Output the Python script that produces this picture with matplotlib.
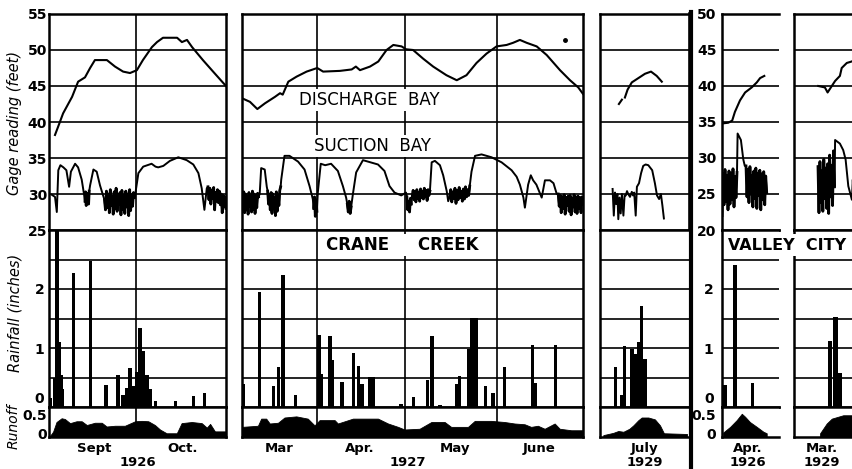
import numpy as np
import matplotlib
matplotlib.use("Agg")
from matplotlib import pyplot as plt
from matplotlib.lines import Line2D
from matplotlib import transforms

W, H = 852, 469

# ---------------- Crane Creek, Sept-Oct 1926 (day 0 = Sept 1) ----------------
dis_a = [(3.0, 38.2), (4.0, 39.3), (5.7, 41.2), (8.7, 43.5), (10.7, 45.6), (13.0, 46.2),
         (14.7, 47.5), (16.3, 48.6), (20.3, 48.6), (23.0, 47.7), (25.7, 47.0), (28.0, 46.8),
         (30.3, 47.2), (32.3, 48.6), (35.3, 50.4), (37.0, 51.1), (39.0, 51.7), (43.7, 51.7),
         (45.3, 51.1), (47.0, 51.4), (48.7, 50.4), (52.3, 48.6), (55.7, 47.0), (58.7, 45.6),
         (60.0, 45.0)]
suc_a = [(1.9, 29.9), (3.0, 29.6), (3.6, 27.5), (4.1, 33.3), (4.8, 34.0), (5.8, 33.7),
         (6.8, 33.3), (7.7, 31.0), (8.3, 33.1), (9.7, 34.2), (10.7, 33.7), (11.9, 32.0),
         (12.7, 29.9), (14.7, 31.2), (15.8, 33.4), (16.9, 33.1), (18.0, 31.2), (19.1, 29.7),
         (29.8, 30.1), (30.8, 32.9), (32.4, 33.8), (35.2, 34.2), (36.5, 33.8), (37.4, 33.7),
         (39.1, 33.9), (41.3, 34.6), (44.1, 35.1), (46.9, 34.7), (49.1, 34.1), (50.8, 32.9),
         (51.9, 30.8), (52.8, 27.8), (53.6, 30.8)]
swings_a = [
    (13.0, 14.4, [29.0, 30.3, 28.4, 30.1, 28.9, 29.8, 28.6, 30.4]),
    (19.5, 29.5, [29.2, 27.8, 30.4, 28.1, 30.0, 27.4, 30.6, 28.4, 29.7, 27.2, 30.3, 28.0,
                  30.8, 27.6, 29.9, 28.6, 30.2, 27.1, 30.5, 27.9, 29.8, 27.3, 30.4, 28.2,
                  30.0, 27.0, 30.6, 27.7, 29.9, 28.3, 30.2, 29.5]),
    (54.0, 60.0, [31.0, 29.2, 30.8, 28.6, 30.5, 29.4, 30.9, 27.8, 30.2, 29.0, 30.6, 28.8,
                  30.4, 28.5, 30.0, 27.4, 29.8, 28.2, 29.6, 28.0]),
]
rain_a = [(1.5, 0.16), (3.0, 0.5), (3.7, 3.0), (4.4, 1.1), (5.0, 0.55), (5.6, 0.3),
          (9.2, 2.27), (14.8, 2.48), (20.0, 0.37), (24.0, 0.54), (25.7, 0.2), (26.8, 0.33),
          (28.0, 0.66), (29.2, 0.35), (30.2, 0.6), (31.3, 1.34), (32.5, 0.95), (33.7, 0.55),
          (34.8, 0.3), (36.5, 0.1), (43.2, 0.1), (49.2, 0.18), (52.8, 0.24)]
runoff_a = [(1.0, -0.1), (2.0, 0.0), (2.4, 0.05), (3.5, 0.3), (5.2, 0.40), (6.3, 0.38),
            (8.0, 0.27), (10.2, 0.32), (11.9, 0.32), (13.6, 0.22), (16.3, 0.28), (18.6, 0.28),
            (20.2, 0.18), (23.0, 0.2), (26.3, 0.2), (29.7, 0.32), (31.9, 0.33), (34.1, 0.32),
            (36.3, 0.22), (38.0, 0.1), (40.2, 0.0), (43.6, 0.0), (45.2, 0.27), (48.6, 0.3),
            (51.9, 0.27), (53.6, 0.15), (54.7, 0.25), (56.3, 0.05), (60.0, 0.05)]

# ---------------- Crane Creek, Mar-June 1927 (day 0 = Mar 1) ----------------
dis_b = [(5.6, 43.3), (8.3, 42.8), (10.8, 41.8), (13.4, 42.6), (16.8, 43.5), (18.5, 44.0),
         (19.4, 43.8), (21.3, 45.6), (24.1, 46.3), (27.5, 47.0), (31.1, 47.5), (33.1, 47.0),
         (38.8, 47.1), (42.8, 47.3), (44.2, 47.7), (45.6, 47.2), (49.0, 47.7), (51.8, 48.4),
         (54.6, 50.0), (56.9, 50.7), (59.7, 50.5), (61.2, 50.1), (63.6, 50.0), (67.0, 48.8),
         (70.4, 47.7), (74.9, 46.5), (78.4, 45.8), (81.7, 46.5), (85.1, 48.2), (88.5, 49.5),
         (91.9, 50.5), (95.3, 50.7), (97.5, 51.0), (99.8, 51.4), (102.1, 51.0), (105.5, 50.5),
         (108.9, 49.3), (113.4, 47.2), (116.8, 45.8), (119.6, 44.8), (121.2, 43.9)]
dis_b_dot = (115.1, 51.4)
suc_b = [(11.6, 30.0), (12.1, 33.6), (13.3, 33.4), (14.0, 31.0), (18.9, 32.0), (20.0, 35.3),
         (21.7, 35.3), (24.6, 34.5), (26.8, 33.4), (28.5, 31.1), (29.6, 29.3), (31.3, 30.2),
         (32.3, 34.2), (33.8, 34.0), (35.8, 34.2), (38.1, 33.2), (39.8, 31.1), (40.9, 29.5),
         (43.2, 30.0), (44.3, 33.0), (46.6, 34.7), (48.3, 34.5), (51.7, 34.1), (53.9, 33.2),
         (55.6, 31.1), (57.3, 30.2), (59.6, 29.8), (61.2, 30.2), (69.9, 34.4), (71.0, 34.6),
         (72.7, 34.0), (73.8, 32.6), (75.0, 30.4), (75.5, 29.0), (83.4, 33.1), (84.6, 35.3),
         (86.8, 35.5), (90.2, 35.1), (93.6, 34.4), (97.0, 33.3), (98.7, 32.4), (99.8, 31.3),
         (101.0, 29.5), (101.5, 28.1), (102.6, 31.3), (103.5, 32.6), (104.3, 31.9),
         (105.4, 31.3), (107.2, 29.5), (108.3, 31.9), (110.0, 31.9), (111.2, 31.5),
         (112.3, 30.0)]
swings_b = [
    (5.6, 11.2, [29.9, 28.0, 30.3, 27.4, 30.0, 27.8, 29.6, 27.2, 30.2, 28.3, 29.8, 27.5,
                 30.4, 27.9, 30.0, 27.3, 29.7, 28.1, 30.1, 29.6]),
    (14.3, 18.7, [30.4, 28.6, 29.9, 27.8, 30.2, 27.3, 30.0, 28.1, 29.5, 27.0, 30.3, 27.6,
                  29.8, 28.4, 30.5, 31.0]),
    (29.9, 31.0, [28.0, 29.6, 26.9, 29.2, 27.6]),
    (41.3, 42.6, [28.6, 27.5, 29.0, 27.3, 28.2]),
    (61.5, 63.0, [29.6, 27.8, 29.0, 27.5, 29.4, 28.6]),
    (63.3, 69.3, [29.6, 30.5, 29.2, 30.3, 28.9, 30.6, 29.4, 30.2, 29.0, 30.7, 29.5, 30.4,
                  29.3, 30.8, 29.6, 30.5, 29.1, 30.6, 29.8, 30.4]),
    (76.0, 82.8, [29.6, 30.6, 28.9, 30.3, 29.4, 30.8, 28.7, 30.5, 29.2, 30.9, 29.5, 30.4,
                  29.0, 30.7, 29.3, 31.0, 29.6, 30.6, 29.8, 31.1]),
    (112.8, 121.2, [30.0, 28.3, 29.8, 27.4, 29.6, 28.0, 29.9, 27.2, 29.5, 28.4, 29.7, 27.6,
                    29.8, 27.1, 29.4, 28.2, 29.9, 27.5, 29.6, 27.3, 29.7, 28.0, 29.5, 27.4,
                    29.6, 28.6]),
]
rain_b = [(5.3, 0.22), (6.0, 0.39), (11.6, 1.95), (16.4, 0.36), (18.1, 0.68), (19.5, 2.23),
          (23.7, 0.21), (31.7, 1.22), (32.6, 0.56), (35.4, 1.21), (36.3, 0.8), (39.5, 0.42),
          (43.5, 0.91), (45.0, 0.69), (46.3, 0.39), (49.0, 0.51), (50.3, 0.51), (59.5, 0.05),
          (63.7, 0.17), (68.5, 0.45), (70.0, 1.21), (72.7, 0.04), (78.3, 0.39), (79.4, 0.52),
          (82.4, 0.99), (83.6, 1.51), (84.9, 1.51), (88.1, 0.36), (90.7, 0.23), (94.7, 0.67),
          (104.0, 1.05), (105.1, 0.4), (111.8, 1.05)]
runoff_b = [(5.6, 0.17), (11.0, 0.2), (12.1, 0.39), (13.8, 0.39), (15.0, 0.26), (17.8, 0.28),
            (20.0, 0.42), (24.0, 0.45), (27.9, 0.39), (30.2, 0.21), (31.9, 0.35), (37.0, 0.35),
            (38.1, 0.26), (43.2, 0.39), (51.7, 0.39), (55.1, 0.26), (58.5, 0.17), (60.7, 0.1),
            (65.8, 0.12), (69.8, 0.3), (74.3, 0.3), (76.5, 0.17), (82.2, 0.17), (84.5, 0.33),
            (90.1, 0.33), (94.6, 0.3), (98.0, 0.26), (101.4, 0.24), (103.6, 0.17),
            (105.9, 0.2), (108.2, 0.12), (111.6, 0.26), (113.3, 0.12), (117.2, 0.08),
            (121.2, 0.08)]

# ---------------- Crane Creek, July 1929 (day = day of month) ----------------
dis_c = [(7.3, 42.5), (8.3, 43.1), (8.8, np.nan), (9.3, 43.4), (10.2, 44.5), (11.6, 45.5),
         (13.8, 46.1), (16.0, 46.7), (18.0, 47.0), (19.9, 46.4), (21.6, 45.6)]
suc_c = [(5.2, 30.7), (5.6, 27.0), (6.0, 30.2), (6.4, 28.6), (6.8, 30.0), (7.1, 26.5),
         (7.5, 29.5), (7.9, 27.3), (8.3, 30.0), (8.8, 27.0), (9.2, 29.8), (9.6, 29.8),
         (10.0, 30.4), (10.4, 30.0), (11.0, 29.6), (11.6, 30.3), (12.0, 29.8), (12.4, 30.2),
         (12.9, 27.0), (13.3, 31.0), (14.0, 31.5), (14.7, 32.9), (15.4, 33.9), (16.2, 34.1),
         (17.1, 34.0), (18.4, 33.3), (19.3, 31.5), (20.0, 29.8), (20.7, 29.3), (21.3, 30.0),
         (21.8, 28.4), (22.3, 26.6)]
rain_c = [(6.2, 0.68), (8.3, 0.2), (9.2, 1.04), (11.7, 0.98), (12.7, 0.9), (13.8, 1.1),
          (14.8, 1.72), (16.0, 0.81)]
runoff_c = [(2.1, -0.05), (5.4, 0.01), (7.1, 0.06), (8.8, 0.04), (10.8, 0.12), (12.1, 0.21),
            (13.8, 0.35), (14.9, 0.42), (17.1, 0.42), (19.3, 0.37), (21.0, 0.21), (22.3, 0.0),
            (30.0, -0.02)]

# ---------------- Valley City, Apr 1926 ----------------
dis_d = [(1.1, 34.8), (3.1, 34.9), (4.4, 35.2), (5.3, 36.4), (7.0, 38.0), (8.7, 39.1),
         (10.9, 39.8), (12.6, 40.5), (13.7, 41.1), (15.1, 41.4)]
suc_d = [(6.2, 33.4), (7.3, 32.5), (8.1, 29.8), (8.6, 28.9)]
swings_d = [
    (1.0, 6.0, [22.0, 27.8, 23.5, 28.4, 24.0, 27.6, 22.8, 28.2, 23.6, 27.9, 24.2, 28.5,
                23.2, 27.4, 24.5, 28.0]),
    (9.0, 15.9, [28.9, 24.6, 28.4, 23.8, 28.8, 25.0, 27.6, 23.2, 28.2, 24.4, 28.6, 23.0,
                 27.9, 24.8, 28.3, 22.8, 27.8, 24.2, 28.1, 23.5, 27.5, 25.2]),
]
rain_d = [(2.0, 0.37), (5.3, 2.4), (11.2, 0.4)]
runoff_d = [(1.4, 0.02), (3.7, 0.17), (5.9, 0.35), (7.6, 0.52), (8.7, 0.44), (10.3, 0.3),
            (12.6, 0.17), (14.8, 0.04), (15.9, 0.0)]

# ---------------- Valley City, Mar 1929 ----------------
dis_e = [(9.1, 40.0), (11.3, 39.8), (12.2, 39.1), (13.6, 40.0), (14.7, 40.7), (16.3, 41.4),
         (16.9, 42.5), (18.6, 43.2), (20.2, 43.4), (21.3, 43.6)]
suc_e = [(14.7, 32.5), (16.3, 32.0), (17.4, 31.1), (18.2, 29.8), (19.1, 26.1), (20.3, 24.2),
         (20.6, 27.0), (21.0, 23.5), (21.3, 25.5)]
swings_e = [
    (9.0, 14.5, [28.8, 22.4, 29.5, 23.8, 28.2, 22.6, 29.8, 24.4, 28.6, 23.0, 29.2, 22.3,
                 30.4, 24.6, 29.0, 23.4, 31.0, 26.0]),
]
rain_e = [(13.0, 1.12), (14.8, 1.52), (16.2, 0.58)]
runoff_e = [(9.7, 0.0), (11.9, 0.26), (13.6, 0.39), (17.4, 0.48), (20.7, 0.48), (22.0, 0.45)]


def trace(points, swings=()):
    xs = [p[0] for p in points]
    ys = [p[1] for p in points]
    for start, end, vals in swings:
        xs += list(np.linspace(start, end, len(vals)))
        ys += vals
    order = np.argsort(xs, kind="stable")
    return np.array(xs)[order], np.array(ys)[order]


def xy(points):
    return [p[0] for p in points], [p[1] for p in points]


fig = plt.figure(figsize=(W / 100, H / 100), dpi=100)
fig.patch.set_facecolor("white")

TICK_FONT = dict(fontsize=10, fontweight="bold", family="DejaVu Sans")


def box(left, top, right, bottom):
    return fig.add_axes([left / W, 1 - bottom / H, (right - left) / W, (bottom - top) / H])


def frame(ax, right=True):
    for side, sp in ax.spines.items():
        sp.set_linewidth(1.8)
        sp.set_color("black")
    if not right:
        ax.spines["right"].set_visible(False)
    ax.set_xticks([])
    ax.tick_params(axis="y", length=0)


def column(left, right, xlim, gage_lo, dis, suc, swings, rain, runoff, months, year,
           vlines=(), labels=False, pad=1.5, right_spine=True, bar_w=1.1):
    g = box(left, 14, right, 230)
    r = box(left, 230, right, 407)
    q = box(left, 407, right, 437)
    for ax in (g, r, q):
        ax.set_xlim(*xlim)
        frame(ax, right_spine)
        for d in vlines:
            ax.axvline(d, color="black", lw=1.2, zorder=1)

    g.set_ylim(gage_lo, gage_lo + 30)
    for v in range(gage_lo + 5, gage_lo + 30, 5):
        g.axhline(v, color="black", lw=1.2, zorder=1)
    g.plot(*xy(dis), color="black", lw=1.5, zorder=3)
    g.plot(*trace(suc, swings), color="black", lw=1.4, zorder=3)
    # pumping swings ink in as heavy blotches on the chart
    for start, end, vals in swings:
        g.plot(np.linspace(start, end, len(vals)), vals, color="black", lw=2.0, zorder=3)

    r.set_ylim(0, 3.0)
    for v in (0.5, 1.0, 1.5, 2.0, 2.5):
        r.axhline(v, color="black", lw=1.2, zorder=1)
    rx, ry = xy(rain)
    r.bar(rx, ry, width=bar_w, color="black", zorder=3)

    q.set_ylim(-0.1, 0.7)
    qx, qy = xy(runoff)
    q.fill_between(qx, -0.1, qy, color="black", lw=0.6, zorder=3)

    if labels:
        g.set_yticks(range(gage_lo, gage_lo + 31, 5))
        g.set_yticklabels([str(v) for v in range(gage_lo, gage_lo + 31, 5)], **TICK_FONT)
        g.tick_params(axis="y", pad=pad)
        r.set_yticks([1, 2])
        r.set_yticklabels(["1", "2"], **TICK_FONT)
        r.tick_params(axis="y", pad=pad + 2)
        blend = transforms.blended_transform_factory(r.transAxes, r.transData)
        r.text(-(pad + 2) * 100 / 72 / (right - left), 0.02, "0", transform=blend,
               ha="right", va="bottom", **TICK_FONT)
        q.set_yticks([0, 0.5])
        q.set_yticklabels(["0", "0.5"], **TICK_FONT)
        q.tick_params(axis="y", pad=pad)
    else:
        for ax in (g, r, q):
            ax.set_yticks([])

    tx = q.get_xaxis_transform()
    for name, d in months:
        q.text(d, -0.37, name, transform=tx, ha="center", va="center",
               fontsize=9.5, fontweight="bold", clip_on=False)
    for name, d in year:
        q.text(d, -0.84, name, transform=tx, ha="center", va="center",
               fontsize=9.5, fontweight="bold", clip_on=False)
    return g, r, q


ga, ra, qa = column(49, 226, (1, 60), 25, dis_a, suc_a, swings_a, rain_a, runoff_a,
                    [("Sept", 16), ("Oct.", 45.5)], [("1926", 30.5)], vlines=[30],
                    labels=True)
gb, rb, qb = column(242, 583, (5.6, 121.2), 25, dis_b, suc_b, swings_b, rain_b, runoff_b,
                    [("Mar", 18.1), ("Apr.", 45.6), ("May", 77.8), ("June", 106.3)],
                    [("1927", 61.8)], vlines=[31, 61, 92])
gb.plot(*dis_b_dot, "o", color="black", ms=2.5)
gc, rc, qc = column(600, 690, (1, 31), 25, dis_c, suc_c, (), rain_c, runoff_c,
                    [("July", 16)], [("1929", 16)])
gd, rd, qd = column(722, 779, (1, 20), 20, dis_d, suc_d, swings_d, rain_d, runoff_d,
                    [("Apr.", 9.7)], [("1926", 9.7)], labels=True, pad=4,
                    right_spine=False)
ge, re_, qe = column(794, 881, (1, 30), 20, dis_e, suc_e, swings_e, rain_e, runoff_e,
                     [("Mar.", 10.3)], [("1929", 10.3)], right_spine=False, bar_w=1.5)

# Captions laid over the grid
white = dict(facecolor="white", edgecolor="none", pad=1.5)
gb.text(48.6, 43.05, "DISCHARGE  BAY", ha="center", va="center", fontsize=12,
        bbox=white, zorder=4)
gb.text(50.0, 36.7, "SUCTION  BAY", ha="center", va="center", fontsize=12,
        bbox=white, zorder=4)
rb.text(59.8, 2.74, "CRANE     CREEK", ha="center", va="center", fontsize=12,
        fontweight="bold", bbox=white, zorder=4)
fig.text(787 / W, 1 - 245 / H, "VALLEY  CITY", ha="center", va="center", fontsize=11.5,
         fontweight="bold", bbox=dict(facecolor="white", edgecolor="none", pad=2.5))

# Axis titles
fig.text(15 / W, 1 - 123 / H, "Gage reading (feet)", rotation=90, ha="center",
         va="center", fontsize=10.5, style="italic")
fig.text(15 / W, 1 - 313 / H, "Rainfall (inches)", rotation=90, ha="center",
         va="center", fontsize=10.5, style="italic")
fig.text(14 / W, 1 - 426 / H, "Runoff", rotation=90, ha="center", va="center",
         fontsize=10, style="italic")

# Heavy rule separating the two stations
gc.spines["right"].set_linewidth(2.6)
fig.add_artist(Line2D([691 / W, 691 / W], [1 - 12 / H, 0], color="black", lw=3))

fig.savefig("out.png", dpi=100, facecolor="white")
